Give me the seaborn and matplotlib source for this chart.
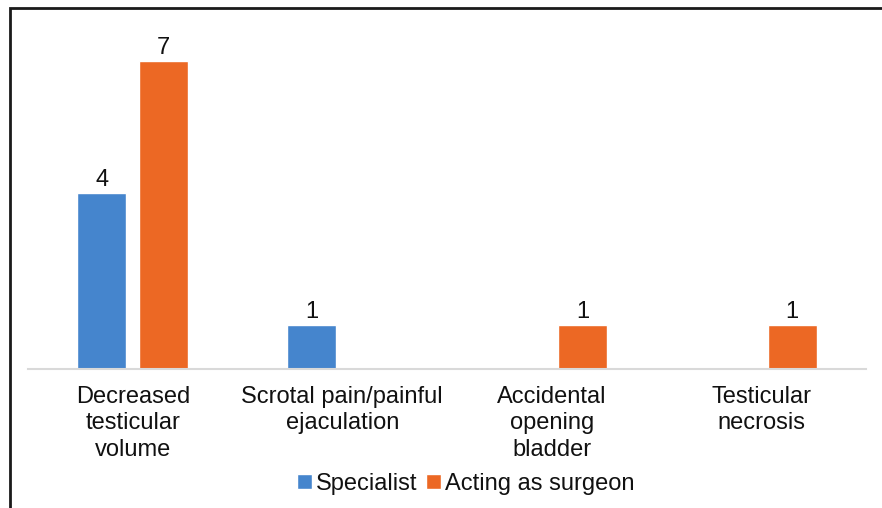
import matplotlib
matplotlib.use("Agg")
import matplotlib.pyplot as plt
from matplotlib.patches import Rectangle, Patch
import numpy as np
import pandas as pd
import seaborn as sns

categories = [
    "Decreased\ntesticular\nvolume",
    "Scrotal pain/painful\nejaculation",
    "Accidental\nopening\nbladder",
    "Testicular\nnecrosis",
]
series = ["Specialist", "Acting as surgeon"]
specialist = [4, 1, np.nan, np.nan]
acting_as_surgeon = [7, np.nan, 1, 1]
colors = ["#4585CD", "#EC6824"]

df = pd.DataFrame({
    "category": categories * 2,
    "group": [series[0]] * 4 + [series[1]] * 4,
    "count": specialist + acting_as_surgeon,
})

sns.set_theme(style="white")
plt.rcParams["font.family"] = ["Liberation Sans", "DejaVu Sans"]

W, H = 882, 508
fig = plt.figure(figsize=(W / 100, H / 100), dpi=100)
ax = fig.add_axes([28 / W, 139 / H, (866 - 28) / W, (369 - 17) / H])

sns.barplot(
    data=df, x="category", y="count", hue="group",
    order=categories, hue_order=series, palette=colors,
    width=0.59, gap=0.21, saturation=1, errorbar=None,
    legend=False, ax=ax,
)

for cont in ax.containers:
    for bar in cont:
        h = bar.get_height()
        if np.isfinite(h) and h > 0:
            ax.text(bar.get_x() + bar.get_width() / 2, h + 0.05, f"{h:g}",
                    ha="center", va="bottom", fontsize=17, color="#111111")

ax.set_ylim(0, 8)
ax.set_xlim(-0.5, 3.5)
ax.set_xlabel("")
ax.set_ylabel("")
ax.set_yticks([])
ax.tick_params(axis="x", length=0, pad=12, labelsize=17, labelcolor="#111111")
for lbl in ax.get_xticklabels():
    lbl.set_linespacing(1.27)
for side in ["left", "right", "top"]:
    ax.spines[side].set_visible(False)
ax.spines["bottom"].set_color("#d9d9d9")
ax.spines["bottom"].set_linewidth(1.5)

handles = [Patch(facecolor=c, label=s) for c, s in zip(colors, series)]
fig.legend(handles=handles, loc="center", bbox_to_anchor=(466 / W, 1 - 484 / H),
           ncol=2, frameon=False, fontsize=17, handlelength=0.62, handleheight=0.62,
           handletextpad=0.2, columnspacing=0.35, labelcolor="#111111")

# outer frame of the chart area
fig.patches.append(Rectangle((9.5 / W, -0.1), 1.2, 1 - 8.5 / H + 0.1,
                             transform=fig.transFigure, fill=False,
                             edgecolor="#1a1a1a", linewidth=2))

fig.savefig("out.png", dpi=100)
